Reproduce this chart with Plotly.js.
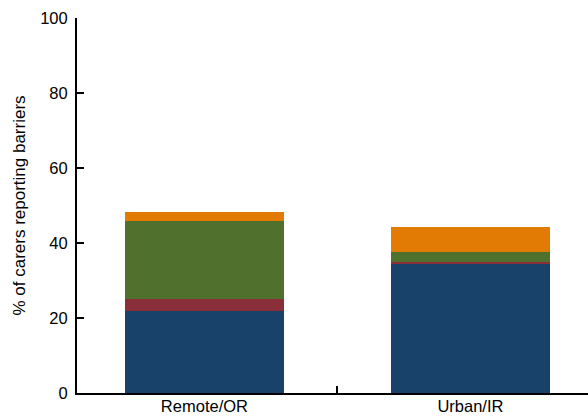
<!DOCTYPE html>
<html>
<head>
<meta charset="utf-8">
<script src="https://cdn.plot.ly/plotly-3.0.1.min.js"></script>
<style>html,body{margin:0;padding:0;background:#fff;}#chart{width:588px;height:416px;}</style>
</head>
<body>
<div id="chart"></div>
<script>
var categories = ['Remote/OR', 'Urban/IR'];
var seriesNames = ['Barrier 1', 'Barrier 2', 'Barrier 3', 'Barrier 4'];
var barrier1 = [21.9, 34.4];
var barrier2 = [3.2, 0.6];
var barrier3 = [20.7, 2.5];
var barrier4 = [2.6, 6.9];
var yTicks = [0, 20, 40, 60, 80, 100];

var colors = ['#18426a', '#8a2f39', '#50702e', '#e17b04'];
var values = [barrier1, barrier2, barrier3, barrier4];
var xs = categories.map(function (c, i) { return i; });

var traces = values.map(function (v, k) {
  return {
    type: 'bar',
    name: seriesNames[k],
    x: xs,
    y: v,
    width: 0.6,
    marker: {color: colors[k], line: {width: 0}},
    showlegend: false
  };
});
// invisible trace to activate overlay axis carrying the between-category tick
traces.push({type: 'scatter', x: [0.5], y: [0], xaxis: 'x2', mode: 'markers',
  marker: {opacity: 0}, showlegend: false, hoverinfo: 'skip'});

var font = {family: 'Liberation Sans, Arial, sans-serif', size: 16.5, color: '#000'};

var layout = {
  width: 588, height: 416,
  margin: {l: 77, r: 0, t: 18, b: 23, pad: 0},
  paper_bgcolor: '#fff', plot_bgcolor: '#fff',
  barmode: 'stack',
  font: font,
  xaxis: {
    range: [-0.479, 1.442],
    tickvals: xs, ticktext: categories,
    ticks: '', showgrid: false, zeroline: false,
    showline: true, linecolor: '#000', linewidth: 2,
    tickfont: font, ticklabelstandoff: -3, fixedrange: true
  },
  xaxis2: {
    overlaying: 'x', range: [-0.479, 1.442],
    tickvals: [0.5], showticklabels: false,
    ticks: 'inside', ticklen: 7, tickwidth: 2, tickcolor: '#000',
    showgrid: false, zeroline: false, showline: false, side: 'bottom'
  },
  yaxis: {
    range: [0, 100],
    tickvals: yTicks,
    ticks: 'inside', ticklen: 7, tickwidth: 2, tickcolor: '#000',
    showgrid: false, zeroline: false,
    showline: true, linecolor: '#000', linewidth: 2,
    tickfont: font, ticklabelstandoff: 4,
    title: {text: '% of carers reporting barriers', font: {family: font.family, size: 17, color: '#000'}, standoff: 10}
  }
};

Plotly.newPlot('chart', traces, layout, {staticPlot: true, displayModeBar: false});
</script>
</body>
</html>
